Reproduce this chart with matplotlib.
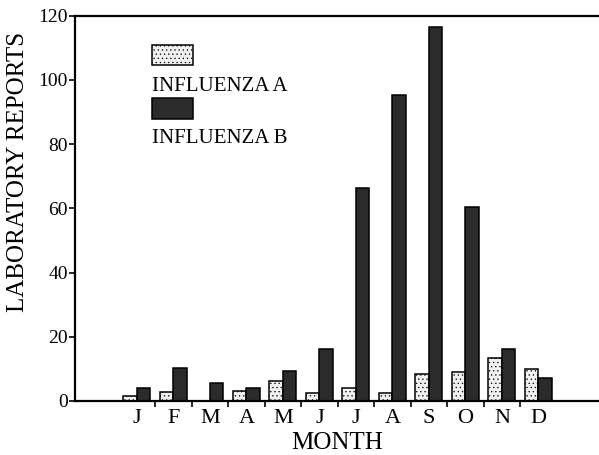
#!/usr/bin/env python
""" Influenza laboratory reports by month """

import numpy as np
import matplotlib as mpl
import matplotlib.pyplot as plt
from matplotlib.patches import Rectangle

mpl.rcParams["font.family"] = ["serif"]
mpl.rcParams["font.serif"] = ["Liberation Serif", "DejaVu Serif"]
mpl.rcParams["hatch.linewidth"] = 0.4

# Data
months = ["J", "F", "M", "A", "M", "J", "J", "A", "S", "O", "N", "D"]
flu_a = [1.5, 2.8, 0, 3.1, 6.3, 2.6, 4.0, 2.4, 8.4, 9.1, 13.3, 10.0]
flu_b = [4.2, 10.3, 5.5, 4.1, 9.2, 16.3, 66.3, 95.2, 116.4, 60.4, 16.1, 7.3]
yticks = [0, 20, 40, 60, 80, 100, 120]


def main():
    """ Main function """
    fig = plt.figure(figsize=(5.99, 4.55), dpi=100)
    ax = fig.add_axes([0.125, 0.1187, 0.875, 0.8468])

    x = np.arange(len(months))
    w = 0.37
    ax.bar(x - w / 2, flu_a, w, facecolor="#f0f0f0", edgecolor="black",
           linewidth=1.1, hatch="....")
    ax.bar(x + w / 2, flu_b, w, facecolor="#2b2b2b", edgecolor="black",
           linewidth=1.1)

    ax.set_xlim(-1.7, 12.66)
    ax.set_ylim(0, 120)

    for side in ["left", "bottom", "top"]:
        ax.spines[side].set_linewidth(1.6)
    ax.spines["right"].set_visible(False)

    ax.set_yticks(yticks)
    ax.tick_params(axis="y", direction="out", length=4, width=1.2,
                   labelsize=14, pad=1)
    ax.set_xticks(x)
    ax.set_xticklabels(months)
    ax.set_xticks(x[:-1] + 0.5, minor=True)
    ax.tick_params(axis="x", which="major", length=0, labelsize=16, pad=6)
    ax.tick_params(axis="x", which="minor", direction="out", length=4,
                   width=1.2)

    ax.set_xlabel("MONTH", fontsize=18, labelpad=3)
    ax.set_ylabel("LABORATORY REPORTS", fontsize=18)
    ax.yaxis.set_label_coords(-0.088, 0.594)

    # hand-drawn legend: swatch with label underneath
    ax.add_patch(Rectangle((0.147, 0.872), 0.078, 0.052,
                           transform=ax.transAxes, facecolor="#f0f0f0",
                           edgecolor="black", linewidth=1.1, hatch="....",
                           clip_on=False))
    ax.text(0.147, 0.841, "INFLUENZA A", transform=ax.transAxes,
            fontsize=15, va="top", ha="left")
    ax.add_patch(Rectangle((0.147, 0.732), 0.078, 0.054,
                           transform=ax.transAxes, facecolor="#2b2b2b",
                           edgecolor="black", linewidth=1.1, clip_on=False))
    ax.text(0.147, 0.706, "INFLUENZA B", transform=ax.transAxes,
            fontsize=15, va="top", ha="left")

    fig.savefig("out.png", dpi=100)


if __name__ == "__main__":
    main()
